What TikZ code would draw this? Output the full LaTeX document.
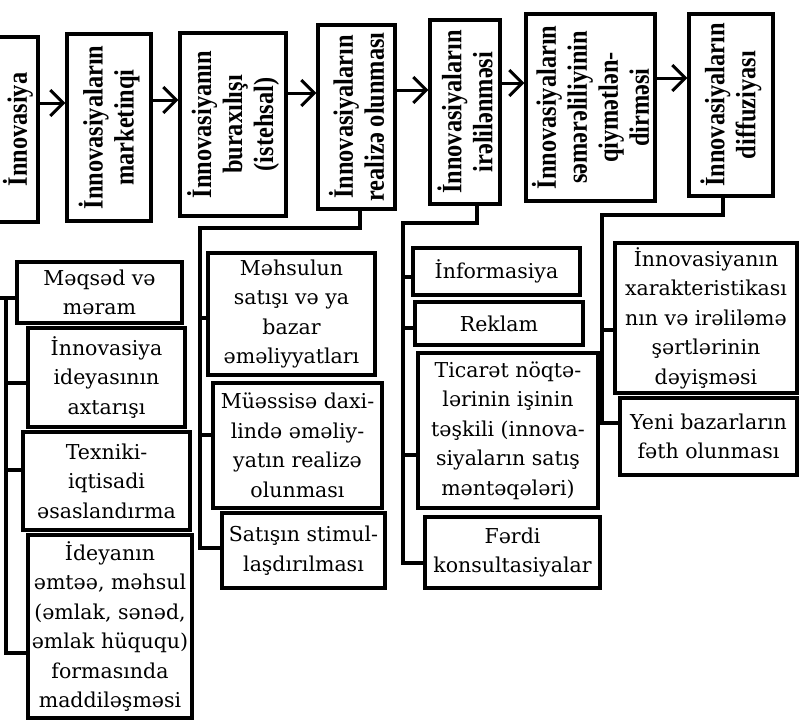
\documentclass[tikz,border=0pt]{standalone}
\usepackage{fontspec}
\setmainfont{DejaVu Serif}
\newfontfamily\topfont[FakeStretch=0.87]{Liberation Serif}
\usetikzlibrary{arrows.meta}
\begin{document}
\begin{tikzpicture}[x=1pt,y=-1pt,
  % rotated boxes: node width = page height, node height = page width
  % page-east = .south, page-west = .north, page-bottom = .west
  topbox/.style={draw, line width=3.2pt, inner sep=0pt, align=center, rotate=90,
    font=\topfont\bfseries\fontsize{28}{31}\selectfont},
  lowbox/.style={draw, line width=3.2pt, inner sep=0pt, align=center,
    font=\fontsize{20.5}{29.5}\selectfont},
  conn/.style={line width=3.2pt},
  arr/.style={line width=3pt, -{Straight Barb[length=13pt,width=26pt,line width=3pt]}}]
\useasboundingbox (0,0) rectangle (799,721);

% top row
\node[topbox, minimum width=185, minimum height=40] (b1) at (18,129.5) {İnnovasiya};
\node[topbox, minimum width=187, minimum height=84] (b2) at (109,127.5) {İnnovasiyaların\\marketinqi};
\node[topbox, minimum width=183, minimum height=106] (b3) at (233,124.5) {İnnovasiyanın\\buraxılışı\\(istehsal)};
\node[topbox, minimum width=184, minimum height=77] (b4) at (356.5,117) {İnnovasiyaların\\realizə olunması};
\node[topbox, minimum width=184, minimum height=70] (b5) at (465,112) {İnnovasiyaların\\irəlilənməsi};
\node[topbox, minimum width=187, minimum height=129] (b6) at (590.5,107.5) {İnnovasiyaların\\səmərəliliyinin\\qiymətlən-\\dirməsi};
\node[topbox, minimum width=182, minimum height=84] (b7) at (731,105) {İnnovasiyaların\\diffuziyası};

\draw[arr] (b1.south |- 0,103) -- (b2.north |- 0,103);
\draw[arr] (b2.south |- 0,100) -- (b3.north |- 0,100);
\draw[arr] (b3.south |- 0,93) -- (b4.north |- 0,93);
\draw[arr] (b4.south |- 0,90) -- (b5.north |- 0,90);
\draw[arr] (b5.south |- 0,83) -- (b6.north |- 0,83);
\draw[arr] (b6.south |- 0,78) -- (b7.north |- 0,78);

% column 1
\node[lowbox, minimum width=165, minimum height=61] (c1a) at (99.5,292.5) {Məqsəd və\\məram};
\node[lowbox, minimum width=157, minimum height=99] (c1b) at (106.5,377.5) {İnnovasiya\\ideyasının\\axtarışı};
\node[lowbox, minimum width=167, minimum height=98] (c1c) at (106.5,481) {Texniki-\\iqtisadi\\əsaslandırma};
\node[lowbox, minimum width=164, minimum height=183] (c1d) at (110,626.5) {İdeyanın\\əmtəə, məhsul\\(əmlak, sənəd,\\əmlak hüququ)\\formasında\\maddiləşməsi};
\draw[conn] (-5,298) -- (c1a.west |- 0,298);
\draw[conn] (6,298) -- (6,653) -- (c1d.west |- 0,653);
\draw[conn] (6,383) -- (c1b.west |- 0,383);
\draw[conn] (6,470) -- (c1c.west |- 0,470);

% column 2
\node[lowbox, minimum width=167, minimum height=122] (c2a) at (291.5,314) {Məhsulun\\satışı və ya\\bazar\\əməliyyatları};
\node[lowbox, minimum width=169, minimum height=125] (c2b) at (297.5,445.5) {Müəssisə daxi-\\lində əməliy-\\yatın realizə\\olunması};
\node[lowbox, minimum width=163, minimum height=75] (c2c) at (303.5,550.5) {Satışın stimul-\\laşdırılması};
\draw[conn] (b4.west -| 360,0) -- (360,228) -- (200,228) -- (200,548) -- (c2c.west |- 0,548);
\draw[conn] (200,318) -- (c2a.west |- 0,318);
\draw[conn] (200,435) -- (c2b.west |- 0,435);

% column 3
\node[lowbox, minimum width=167, minimum height=47] (c3a) at (496.5,271.5) {İnformasiya};
\node[lowbox, minimum width=168, minimum height=43] (c3b) at (499,323.5) {Reklam};
\node[lowbox, minimum width=180, minimum height=155] (c3c) at (508,430.5) {Ticarət nöqtə-\\lərinin işinin\\təşkili (innova-\\siyaların satış\\məntəqələri)};
\node[lowbox, minimum width=175, minimum height=71] (c3d) at (512.5,552.5) {Fərdi\\konsultasiyalar};
\draw[conn] (b5.west -| 477,0) -- (477,223) -- (403,223) -- (403,563) -- (c3d.west |- 0,563);
\draw[conn] (403,277) -- (c3a.west |- 0,277);
\draw[conn] (403,328) -- (c3b.west |- 0,328);
\draw[conn] (403,455) -- (c3c.west |- 0,455);

% column 4
\node[lowbox, minimum width=182, minimum height=150] (c4a) at (706,318) {İnnovasiyanın\\xarakteristikası\\nın və irəliləmə\\şərtlərinin\\dəyişməsi};
\node[lowbox, minimum width=177, minimum height=77] (c4b) at (708.5,436.5) {Yeni bazarların\\fəth olunması};
\draw[conn] (b7.west -| 723,0) -- (723,215) -- (602,215) -- (602,423) -- (c4b.west |- 0,423);
\draw[conn] (602,330) -- (c4a.west |- 0,330);
\end{tikzpicture}
\end{document}
